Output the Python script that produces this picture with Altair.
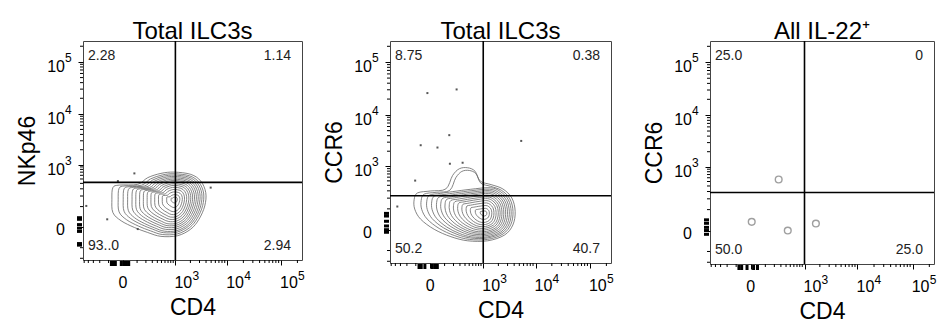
import math
import altair as alt
import pandas as pd

FONT = "Liberation Sans"
WIDTHS = [219, 221, 224]
HEIGHTS = [219, 222, 223]
CX = 120.0   # symlog constant (CD4 axis)
CY = 67.6    # symlog constant (marker axis)
X_DOMAIN = [-532, 243000]
Y_DOMAIN = [-221, 252000]

titles = ["Total ILC3s", "Total ILC3s", "All IL-22⁺"]
x_titles = ["CD4", "CD4", "CD4"]
y_titles = ["NKp46", "CCR6", "CCR6"]

major_ticks = [0, 1000, 10000, 100000]
tick_base = ["0", "10", "10", "10"]
tick_exp = ["", "3", "4", "5"]
x_minor = [-500, -400, -300, -200, -100, 100, 200, 300, 400, 500, 600, 700, 800, 900,
           2000, 3000, 4000, 5000, 6000, 7000, 8000, 9000,
           20000, 30000, 40000, 50000, 60000, 70000, 80000, 90000, 200000]
y_minor = [-200, -100, 100, 200, 300, 400, 500, 600, 700, 800, 900,
           2000, 3000, 4000, 5000, 6000, 7000, 8000, 9000,
           20000, 30000, 40000, 50000, 60000, 70000, 80000, 90000, 200000]

# quadrant percentages
q_tl = ["2.28", "8.75", "25.0"]
q_tr = ["1.14", "0.38", "0"]
q_bl = ["93..0", "50.2", "50.0"]
q_br = ["2.94", "40.7", "25.0"]

gate_x = [1000, 1000, 1000]
gate_y = [420, 230, 285]

# sparse events
p1_dot_cd4 = [76, -28, -447, -113, 106, 4900]
p1_dot_nkp46 = [659, 450, 105, 28, -6, 320]
p2_dot_cd4 = [-15, 245, 148, -59, 43, 350, 155, 5424, -106, -359]
p2_dot_ccr6 = [25985, 30460, 4097, 2616, 2360, 1184, 1130, 3170, 507, 118]
p3_dot_cd4 = [263, 5, 439, 1679]
p3_dot_ccr6 = [552, 31, 0, 24]

# events piled on the axes
p1_pile_y = [35, 28, 8, -3, -14, -72, -82]
p1_pile_x = [-75, -62, -45, -8, 5, 20, 34]
p2_pile_y = [70, 55, 30, 12, 0, -8]
p2_pile_x = [-72, -55, -30, 10, 25, 42]
p3_pile_y = [40, 25, 10, 0, -12]
p3_pile_x = [-76, -55, -20, 15, 39]

# outer contour outlines (CD4, marker) and centres
p1_outer_cd4 = [-63, -19, 106, 226, 486, 945, 2037, 3170, 3950, 3780, 2940, 2037, 1110, 486, 226, 76, -9, -63, -71]
p1_outer_nkp46 = [320, 366, 380, 534, 659, 702, 628, 450, 243, 105, 28.5, -6, -31, -34, -18, -1, 22, 61, 164]
p1_center = [976, 164]

p2_outer_cd4 = [-116, -85, 3, 112, 188, 289, 461, 672, 875, 1437, 2436, 3620, 4180, 3780, 2625, 1235, 461, 167, 22, -59, -110]
p2_outer_ccr6 = [182, 268, 298, 332, 649, 895, 938, 799, 491, 415, 332, 201, 82, 15.5, -17.7, -42, -42, -24, 1.2, 39, 98]
p2_core_cd4 = [-116, -85, 3, 112, 461, 1437, 2436, 3620, 4180, 3780, 2625, 1235, 461, 167, 22, -59, -110]
p2_core_ccr6 = [182, 268, 298, 332, 380, 415, 332, 201, 82, 15.5, -17.7, -42, -42, -24, 1.2, 39, 98]
p2_center = [1058, 71]

# contour level shrink factors towards the centre
frac_left = [1.00, 0.90, 0.82, 0.75, 0.68, 0.62, 0.56, 0.50, 0.44, 0.38, 0.32, 0.26, 0.20, 0.13, 0.06]
frac_right = [1.00, 0.93, 0.87, 0.81, 0.75, 0.69, 0.63, 0.57, 0.51, 0.45, 0.38, 0.31, 0.24, 0.16, 0.08]
frac_up = [1.00, 0.94, 0.89, 0.84, 0.79, 0.74, 0.69, 0.63, 0.57, 0.51, 0.44, 0.36, 0.27, 0.17, 0.08]
frac_down = [1.00, 0.95, 0.90, 0.86, 0.81, 0.76, 0.71, 0.66, 0.60, 0.54, 0.48, 0.41, 0.33, 0.22, 0.10]
p1_level_shape = [0] * 15
p2_level_shape = [0, 0] + [1] * 13


def fwd(v, c):
    return math.copysign(math.log1p(abs(v) / c), v)


def inv(u, c):
    return math.copysign(c * math.expm1(abs(u)), u)


def contour_df(shapes, level_shape, center):
    rows = []
    cu, cv = fwd(center[0], CX), fwd(center[1], CY)
    for lev, si in enumerate(level_shape):
        xs, ys = shapes[si]
        for i, (xv, yv) in enumerate(zip(xs, ys)):
            du = fwd(xv, CX) - cu
            dv = fwd(yv, CY) - cv
            fx = frac_left[lev] if du < 0 else frac_right[lev]
            fy = frac_up[lev] if dv > 0 else frac_down[lev]
            rows.append({"x": inv(cu + fx * du, CX), "y": inv(cv + fy * dv, CY),
                         "level": lev, "i": i})
    return pd.DataFrame(rows)


xscale = alt.Scale(type="symlog", constant=CX, domain=X_DOMAIN, nice=False, zero=False)
yscale = alt.Scale(type="symlog", constant=CY, domain=Y_DOMAIN, nice=False, zero=False)


def xenc(title):
    return alt.X("x:Q", scale=xscale, axis=alt.Axis(
        title=title, values=major_ticks, labels=False, grid=False, domain=False,
        tickSize=5, tickColor="black",
        titleFontSize=23, titleFont=FONT, titleFontWeight="normal", titleColor="black",
        titlePadding=31))


def yenc(title):
    return alt.Y("y:Q", scale=yscale, axis=alt.Axis(
        title=title, values=major_ticks, labels=False, grid=False, domain=False,
        tickSize=5, tickColor="black",
        titleFontSize=23, titleFont=FONT, titleFontWeight="normal", titleColor="black",
        titlePadding=38))


def text_layer(label, align, x, y):
    return alt.Chart(alt.Data(values=[{"t": label}])).mark_text(
        align=align, baseline="middle", fontSize=14, font=FONT, color="#222"
    ).encode(x=alt.value(x), y=alt.value(y), text="t:N")


def tick_label_layers(xt, yt, H):
    zero = pd.DataFrame({"v": major_ticks[:1], "b": tick_base[:1]})
    powers = pd.DataFrame({"v": major_ticks[1:], "b": tick_base[1:], "e": tick_exp[1:]})
    out = []
    # x axis
    out.append(alt.Chart(zero.rename(columns={"v": "x"})).mark_text(
        align="center", baseline="alphabetic", fontSize=16, font=FONT, color="black"
    ).encode(x=xenc(xt), y=alt.value(H + 28), text="b:N"))
    out.append(alt.Chart(powers.rename(columns={"v": "x"})).mark_text(
        align="left", baseline="alphabetic", fontSize=16, font=FONT, color="black", dx=-1
    ).encode(x=xenc(xt), y=alt.value(H + 28), text="b:N"))
    out.append(alt.Chart(powers.rename(columns={"v": "x"})).mark_text(
        align="left", baseline="alphabetic", fontSize=12, font=FONT, color="black", dx=17
    ).encode(x=xenc(xt), y=alt.value(H + 20), text="e:N"))
    # y axis
    out.append(alt.Chart(zero.rename(columns={"v": "y"})).mark_text(
        align="right", baseline="middle", fontSize=16, font=FONT, color="black", dy=3
    ).encode(y=yenc(yt), x=alt.value(-18), text="b:N"))
    out.append(alt.Chart(powers.rename(columns={"v": "y"})).mark_text(
        align="right", baseline="alphabetic", fontSize=16, font=FONT, color="black", dy=10
    ).encode(y=yenc(yt), x=alt.value(-18), text="b:N"))
    out.append(alt.Chart(powers.rename(columns={"v": "y"})).mark_text(
        align="left", baseline="alphabetic", fontSize=12, font=FONT, color="black", dy=0
    ).encode(y=yenc(yt), x=alt.value(-18), text="e:N"))
    return out


def panel(k, contours, dots_x, dots_y, pile_x, pile_y, open_dots):
    W, H = WIDTHS[k], HEIGHTS[k]
    xt, yt = x_titles[k], y_titles[k]
    layers = []
    layers.append(alt.Chart(pd.DataFrame({"x": x_minor})).mark_rule(color="black", strokeWidth=1).encode(
        x=xenc(xt), y=alt.value(H), y2=alt.value(H + 3)))
    layers.append(alt.Chart(pd.DataFrame({"y": y_minor})).mark_rule(color="black", strokeWidth=1).encode(
        y=yenc(yt), x=alt.value(0), x2=alt.value(-3)))
    layers.append(alt.Chart(pd.DataFrame({"x": pile_x})).mark_rule(color="black", strokeWidth=3).encode(
        x=xenc(xt), y=alt.value(H + 1), y2=alt.value(H + 6)))
    layers.append(alt.Chart(pd.DataFrame({"y": pile_y})).mark_rule(color="black", strokeWidth=3).encode(
        y=yenc(yt), x=alt.value(-1), x2=alt.value(-6)))
    layers += tick_label_layers(xt, yt, H)
    if contours is not None:
        layers.append(alt.Chart(contours).mark_line(
            interpolate="cardinal-closed", color="#666666", strokeWidth=0.8
        ).encode(x=xenc(xt), y=yenc(yt), detail="level:N", order="i:Q"))
    dots = pd.DataFrame({"x": dots_x, "y": dots_y})
    if open_dots:
        layers.append(alt.Chart(dots).mark_point(
            shape="circle", filled=False, size=45, color="#777777", strokeWidth=1.4
        ).encode(x=xenc(xt), y=yenc(yt)))
    else:
        layers.append(alt.Chart(dots).mark_point(
            shape="square", filled=True, size=4, color="#444444", opacity=0.9
        ).encode(x=xenc(xt), y=yenc(yt)))
    layers.append(alt.Chart(pd.DataFrame({"x": [gate_x[k]]})).mark_rule(
        color="black", strokeWidth=1.6).encode(x=xenc(xt)))
    layers.append(alt.Chart(pd.DataFrame({"y": [gate_y[k]]})).mark_rule(
        color="black", strokeWidth=1.6).encode(y=yenc(yt)))
    layers.append(text_layer(q_tl[k], "left", 5, 15))
    layers.append(text_layer(q_tr[k], "right", W - 11, 15))
    layers.append(text_layer(q_bl[k], "left", 5, H - 14))
    layers.append(text_layer(q_br[k], "right", W - 11, H - 14))
    return alt.layer(*layers).properties(
        width=W, height=H,
        title=alt.TitleParams(titles[k], fontSize=24, font=FONT, fontWeight="normal",
                              color="black", offset=-4, anchor="middle"))


c1 = contour_df([(p1_outer_cd4, p1_outer_nkp46)], p1_level_shape, p1_center)
c2 = contour_df([(p2_outer_cd4, p2_outer_ccr6), (p2_core_cd4, p2_core_ccr6)], p2_level_shape, p2_center)

left_pair = alt.hconcat(
    panel(0, c1, p1_dot_cd4, p1_dot_nkp46, p1_pile_x, p1_pile_y, False),
    panel(1, c2, p2_dot_cd4, p2_dot_ccr6, p2_pile_x, p2_pile_y, False),
    spacing=17,
)
chart = alt.hconcat(
    left_pair,
    panel(2, None, p3_dot_cd4, p3_dot_ccr6, p3_pile_x, p3_pile_y, True),
    spacing=28,
).configure_view(stroke="#444444", strokeWidth=1).properties(
    padding={"left": 8, "top": 11, "right": 5, "bottom": 5},
    background="white",
)

chart.save("out.html", embed_options={"renderer": "svg", "actions": False})
